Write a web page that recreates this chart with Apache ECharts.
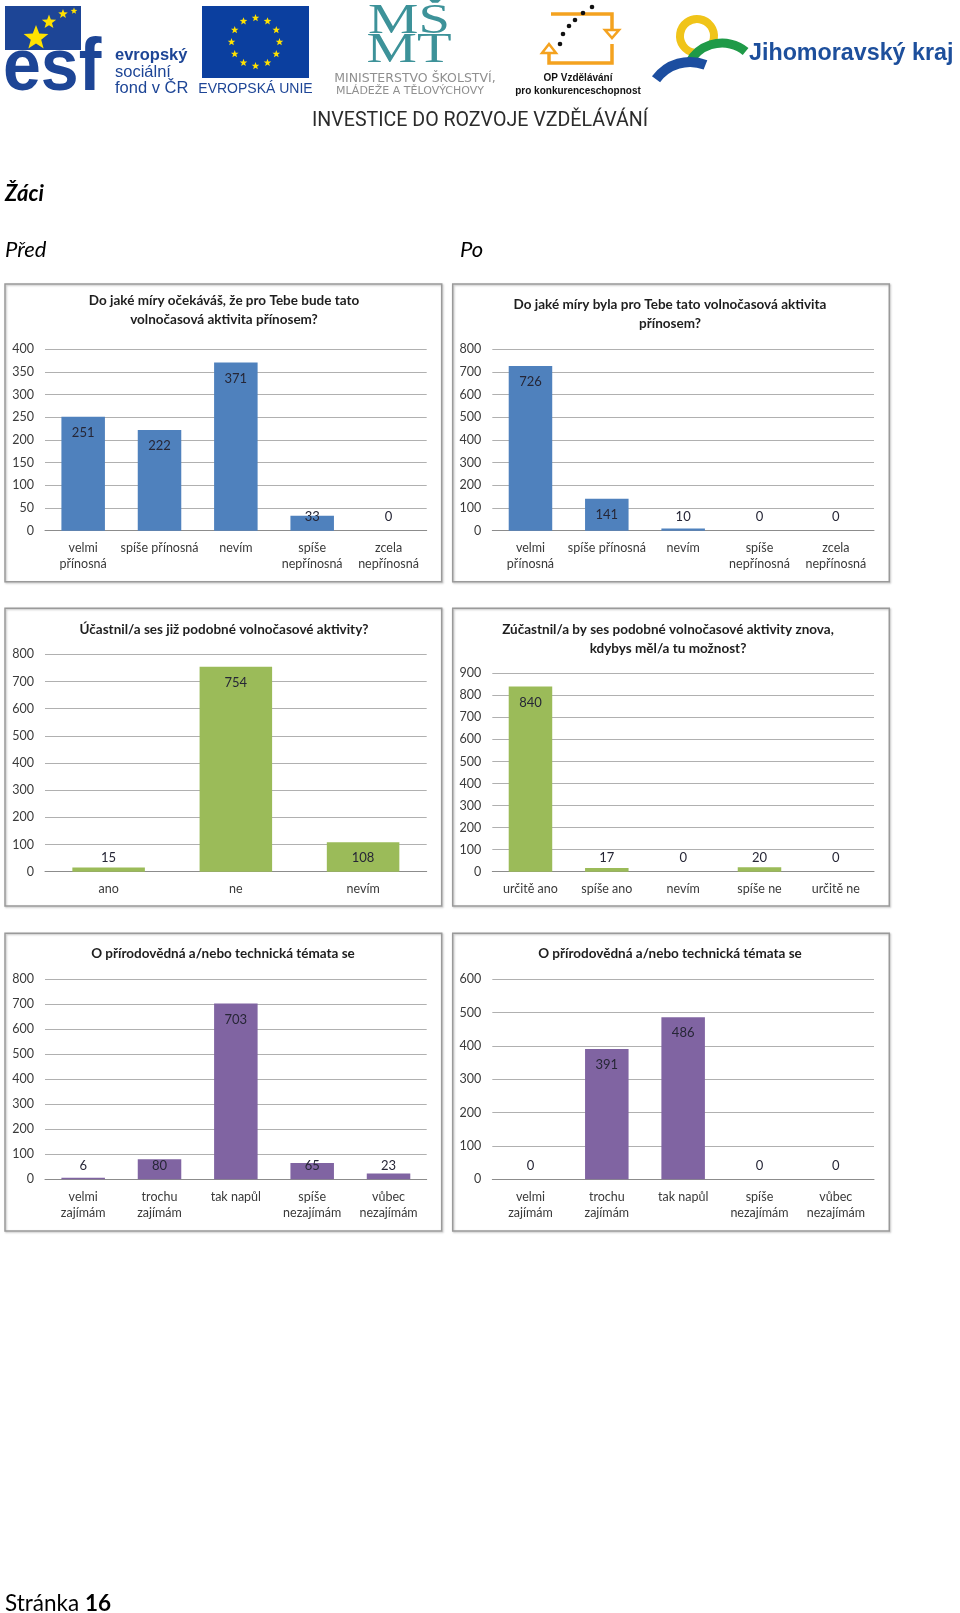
<!DOCTYPE html>
<html><head><meta charset="utf-8">
<script src="https://cdn.jsdelivr.net/npm/echarts@6/dist/echarts.min.js"></script>
<style>html,body{margin:0;padding:0;background:#fff}#c{width:960px;height:1613px}</style>
</head><body><div id="c"></div>
<script>
// ---- data ----
const catsBenefit = ['velmi\npřínosná', 'spíše přínosná', 'nevím', 'spíše\nnepřínosná', 'zcela\nnepřínosná'];
const valsBenefitBefore = [251, 222, 371, 33, 0];
const valsBenefitAfter = [726, 141, 10, 0, 0];
const catsParticipated = ['ano', 'ne', 'nevím'];
const valsParticipated = [15, 754, 108];
const catsAgain = ['určitě ano', 'spíše ano', 'nevím', 'spíše ne', 'určitě ne'];
const valsAgain = [840, 17, 0, 20, 0];
const catsInterest = ['velmi\nzajímám', 'trochu\nzajímám', 'tak napůl', 'spíše\nnezajímám', 'vůbec\nnezajímám'];
const valsInterestBefore = [6, 80, 703, 65, 23];
const valsInterestAfter = [0, 391, 486, 0, 0];
const titleBenefitBefore = 'Do jaké míry očekáváš, že pro Tebe bude tato\nvolnočasová aktivita přínosem?';
const titleBenefitAfter = 'Do jaké míry byla pro Tebe tato volnočasová aktivita\npřínosem?';
const titleParticipated = 'Účastnil/a ses již podobné volnočasové aktivity?';
const titleAgain = 'Zúčastnil/a by ses podobné volnočasové aktivity znova,\nkdybys měl/a tu možnost?';
const titleInterest = 'O přírodovědná a/nebo technická témata se';
const axisMax = [400, 800, 800, 900, 800, 600];
const axisInterval = [50, 100, 100, 100, 100, 100];

const BLUE = '#4F81BD', GREEN = '#9BBB59', PURPLE = '#8064A2';

// ---- layout ----
const panels = [
  {cats: catsBenefit, vals: valsBenefitBefore, color: BLUE, title: titleBenefitBefore,
   frame: [5, 284, 436.7, 297.7], grid: [45, 349.3, 381.7, 181.4], titleX: 224, titleY: 301},
  {cats: catsBenefit, vals: valsBenefitAfter, color: BLUE, title: titleBenefitAfter,
   frame: [452.7, 284, 436.6, 297.7], grid: [492.3, 349.3, 381.7, 181.4], titleX: 670, titleY: 305},
  {cats: catsParticipated, vals: valsParticipated, color: GREEN, title: titleParticipated,
   frame: [5, 608.3, 436.7, 297.7], grid: [45, 654.3, 381.7, 217.4], titleX: 224, titleY: 629.5},
  {cats: catsAgain, vals: valsAgain, color: GREEN, title: titleAgain,
   frame: [452.7, 608.3, 436.6, 297.7], grid: [492.3, 673.3, 381.7, 198.4], titleX: 668, titleY: 630},
  {cats: catsInterest, vals: valsInterestBefore, color: PURPLE, title: titleInterest,
   frame: [5, 933.3, 436.7, 297.7], grid: [45, 979.3, 381.7, 200], titleX: 223, titleY: 953.5},
  {cats: catsInterest, vals: valsInterestAfter, color: PURPLE, title: titleInterest,
   frame: [452.7, 933.3, 436.6, 297.7], grid: [492.3, 979.3, 381.7, 200], titleX: 670, titleY: 953.5}
];

const FONT = 'Lato, "Open Sans", sans-serif';
const grids = [], xAxes = [], yAxes = [], series = [], graphics = [];

panels.forEach((p, i) => {
  grids.push({left: p.grid[0], top: p.grid[1], width: p.grid[2], height: p.grid[3], containLabel: false});
  xAxes.push({type: 'category', gridIndex: i, data: p.cats,
    axisLine: {lineStyle: {color: '#8c8c8c', width: 1}}, axisTick: {show: false},
    axisLabel: {color: '#3a3a3a', fontSize: 12.5, fontFamily: FONT, margin: 9, lineHeight: 16.5, interval: 0}});
  yAxes.push({type: 'value', gridIndex: i, min: 0, max: axisMax[i], interval: axisInterval[i],
    axisLine: {show: false}, axisTick: {show: false},
    splitLine: {lineStyle: {color: '#b0b0b0', width: 1}},
    axisLabel: {color: '#3a3a3a', fontSize: 12.5, fontFamily: FONT, margin: 11}});
  const gh = p.grid[3], mx = axisMax[i];
  series.push({type: 'bar', xAxisIndex: i, yAxisIndex: i, barWidth: '57%',
    itemStyle: {color: p.color},
    data: p.vals.map(v => {
      const h = v / mx * gh;
      return {value: v, label: {position: ['50%', Math.min(16, h - 13.5)]}};
    }),
    label: {show: true, align: 'center', verticalAlign: 'middle', color: '#262636',
      fontSize: 13, fontFamily: FONT},
    silent: true, animation: false});
  graphics.push({type: 'rect', shape: {x: p.frame[0], y: p.frame[1], width: p.frame[2], height: p.frame[3]},
    style: {fill: 'transparent', stroke: '#9a9a9a', lineWidth: 1.5,
      shadowColor: 'rgba(0,0,0,0.25)', shadowBlur: 2, shadowOffsetX: 1, shadowOffsetY: 1}, z: 1});
  graphics.push({type: 'text', style: {text: p.title, x: p.titleX, y: p.titleY - 9.25, textAlign: 'center',
    textVerticalAlign: 'top', fill: '#1e1e1e', font: 'bold 13.5px ' + FONT, lineHeight: 18.5}, z: 5});
});

// ---- page texts ----
function txt(t, x, y, font, fill, align, extra) {
  return Object.assign({type: 'text', z: 5, style: {text: t, x: x, y: y, font: font, fill: fill,
    textAlign: align || 'left', textVerticalAlign: 'middle'}}, extra || {});
}
graphics.push(txt('Žáci', 5, 194, 'italic bold 22px ' + FONT, '#000'));
graphics.push(txt('Před', 5, 250, 'italic 22px ' + FONT, '#000'));
graphics.push(txt('Po', 460, 250, 'italic 22px ' + FONT, '#000'));
graphics.push({type: 'text', z: 5, style: {x: 5, y: 1604, textVerticalAlign: 'middle',
  text: '{a|Stránka }{b|16}', rich: {a: {font: '22.5px ' + FONT, fill: '#000'}, b: {font: 'bold 22.5px ' + FONT, fill: '#000'}}}});

// ---- header logos (decorative) ----
function starPts(cx, cy, r) {
  const pts = [];
  for (let k = 0; k < 10; k++) {
    const a = -Math.PI / 2 + k * Math.PI / 5, rr = k % 2 ? r * 0.42 : r;
    pts.push([cx + rr * Math.cos(a), cy + rr * Math.sin(a)]);
  }
  return pts;
}
const ESFBLUE = '#1d4596', YEL = '#ffe100';
graphics.push({type: 'rect', z: 3, shape: {x: 5, y: 6, width: 76, height: 44}, style: {fill: ESFBLUE}});
[[36, 38, 13], [49, 22, 7.5], [63, 14, 5], [74, 11, 3.5]].forEach(s =>
  graphics.push({type: 'polygon', z: 4, shape: {points: starPts(s[0], s[1], s[2])}, style: {fill: YEL}}));
graphics.push(txt('esf', 3, 70, 'bold 74px "Liberation Sans", Arial, sans-serif', ESFBLUE, 'left', {z: 4, scaleX: 0.92, originX: 3, originY: 70}));
graphics.push(txt('evropský', 115, 55, 'bold 16.5px "Liberation Sans", Arial, sans-serif', ESFBLUE));
graphics.push(txt('sociální', 115, 72, '16.5px "Liberation Sans", Arial, sans-serif', ESFBLUE));
graphics.push(txt('fond v ČR', 115, 88, '16.5px "Liberation Sans", Arial, sans-serif', ESFBLUE));
// EU flag
graphics.push({type: 'rect', z: 3, shape: {x: 202, y: 6, width: 107, height: 72}, style: {fill: '#0b3f9f'}});
for (let k = 0; k < 12; k++) {
  const a = k * Math.PI / 6;
  graphics.push({type: 'polygon', z: 4, shape: {points: starPts(255.5 + 24 * Math.cos(a), 42 + 24 * Math.sin(a), 4)}, style: {fill: YEL}});
}
graphics.push(txt('EVROPSKÁ UNIE', 255.5, 89, '14px "Liberation Sans", Arial, sans-serif', ESFBLUE, 'center'));
// MSMT
const TEAL = '#3d9299';
graphics.push(txt('MŠ', 409, 22, '42px "Liberation Serif", serif', TEAL, 'center', {scaleX: 1.35, originX: 409, originY: 22}));
graphics.push(txt('MT', 409, 51, '42px "Liberation Serif", serif', TEAL, 'center', {scaleX: 1.35, originX: 409, originY: 51}));
graphics.push(txt('MINISTERSTVO ŠKOLSTVÍ,', 415, 78.5, '12.5px "DejaVu Sans", sans-serif', '#8f8f8f', 'center'));
graphics.push(txt('MLÁDEŽE A TĚLOVÝCHOVY', 410, 91, '10px "DejaVu Sans", sans-serif', '#8f8f8f', 'center', {scaleX: 1.1, originX: 410, originY: 91}));
// OP logo
const ORG = '#f4a21f';
graphics.push({type: 'polyline', z: 3, shape: {points: [[551, 14], [612, 14], [612, 30]]}, style: {stroke: ORG, lineWidth: 3.5, fill: null}});
graphics.push({type: 'polygon', z: 3, shape: {points: [[605, 30], [619, 30], [612, 38]]}, style: {stroke: ORG, lineWidth: 2.5, fill: '#fff'}});
graphics.push({type: 'polyline', z: 3, shape: {points: [[612, 44], [612, 63], [549, 63], [549, 53]]}, style: {stroke: ORG, lineWidth: 3.5, fill: null}});
graphics.push({type: 'polygon', z: 3, shape: {points: [[542, 53], [556, 53], [549, 44]]}, style: {stroke: ORG, lineWidth: 2.5, fill: '#fff'}});
[[560, 44], [563, 34], [569, 26], [575, 20], [583, 13], [592, 7]].forEach(d =>
  graphics.push({type: 'circle', z: 4, shape: {cx: d[0], cy: d[1], r: 2.3}, style: {fill: '#111'}}));
graphics.push(txt('OP Vzdělávání', 578, 78, 'bold 10px "Liberation Sans", Arial, sans-serif', '#111', 'center'));
graphics.push(txt('pro konkurenceschopnost', 578, 91, 'bold 10px "Liberation Sans", Arial, sans-serif', '#111', 'center'));
// Jihomoravsky kraj
graphics.push({type: 'arc', z: 3, shape: {cx: 697, cy: 36, r: 17, startAngle: Math.PI * 0.55, endAngle: Math.PI * 2.15},
  style: {stroke: '#f0c419', lineWidth: 8, fill: null}});
graphics.push({type: 'arc', z: 4, shape: {cx: 722, cy: 80, r: 37, startAngle: Math.PI * 1.15, endAngle: Math.PI * 1.72},
  style: {stroke: '#1f9a48', lineWidth: 9, fill: null}});
graphics.push({type: 'arc', z: 5, shape: {cx: 690, cy: 104, r: 42, startAngle: Math.PI * 1.2, endAngle: Math.PI * 1.62},
  style: {stroke: '#1c4ea0', lineWidth: 10, fill: null}});
graphics.push(txt('Jihomoravský kraj', 749, 53, 'bold 24.5px "Liberation Sans", Arial, sans-serif', '#1d4f9c', 'left', {scaleX: 0.95, originX: 749, originY: 53}));
graphics.push(txt('INVESTICE DO ROZVOJE VZDĚLÁVÁNÍ', 480, 121, '20px Roboto, sans-serif', '#2b2b2b', 'center', {scaleX: 0.98, originX: 480, originY: 121}));

const chart = echarts.init(document.getElementById('c'), null, {renderer: 'canvas'});
chart.setOption({
  animation: false,
  backgroundColor: '#fff',
  textStyle: {fontFamily: FONT},
  grid: grids, xAxis: xAxes, yAxis: yAxes, series: series,
  graphic: {elements: graphics}
});
</script></body></html>
